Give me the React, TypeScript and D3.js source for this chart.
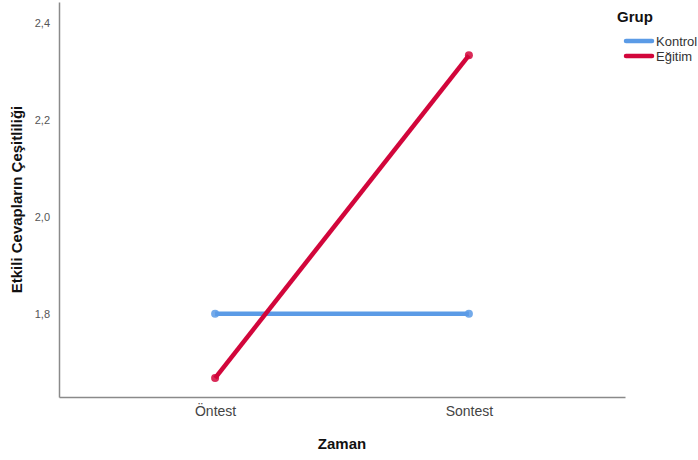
import React from "react";
import * as d3 from "d3";

const times = ["Öntest", "Sontest"];
const groups = ["Kontrol", "Eğitim"];
const kontrolValues = [1.8, 1.8];
const egitimValues = [1.667, 2.333];
const yTicks = [1.8, 2.0, 2.2, 2.4];
const colors = ["#5b9be6", "#d2063b"];

export default function App() {
  const svgRef = React.useRef<SVGSVGElement>(null);

  React.useEffect(() => {
    const width = 698;
    const height = 460;
    const left = 59;
    const right = 625;
    const top = 2;
    const bottom = 397;

    const svg = d3.select(svgRef.current);
    svg.selectAll("*").remove();
    svg.attr("width", width).attr("height", height).style("display", "block");

    // scales
    const xScale = d3.scalePoint<string>().domain(times).range([left, right]).padding(0.615);
    const yScale = d3.scaleLinear().domain([1.628, 2.443]).range([bottom, top]);

    // axes
    const xAxis = d3.axisBottom(xScale).tickSize(0).tickPadding(9);
    const gx = svg.append("g").attr("transform", `translate(0, ${bottom})`).call(xAxis);
    gx.select(".domain").attr("stroke", "#8a8a8a").attr("stroke-width", 1.5);
    gx.selectAll("text")
      .attr("font-family", "Arial, 'Liberation Sans', sans-serif")
      .attr("font-size", 14)
      .attr("fill", "#444")
      .attr("dy", "0.71em");

    const yAxis = d3
      .axisLeft(yScale)
      .tickValues(yTicks)
      .tickSize(0)
      .tickPadding(9)
      .tickFormat((d) => d3.format(".1f")(d as number).replace(".", ","));
    const gy = svg.append("g").attr("transform", `translate(${left}, 0)`).call(yAxis);
    gy.select(".domain").attr("stroke", "#8a8a8a").attr("stroke-width", 1.5);
    gy.selectAll("text")
      .attr("font-family", "Arial, 'Liberation Sans', sans-serif")
      .attr("font-size", 11)
      .attr("fill", "#555");

    // axis labels
    svg
      .append("text")
      .attr("x", (left + right) / 2)
      .attr("y", 449)
      .attr("text-anchor", "middle")
      .attr("font-family", "Arial, 'Liberation Sans', sans-serif")
      .attr("font-size", 15)
      .attr("font-weight", "bold")
      .attr("fill", "#111")
      .text("Zaman");

    svg
      .append("text")
      .attr("transform", `translate(22, ${(top + bottom) / 2}) rotate(-90)`)
      .attr("text-anchor", "middle")
      .attr("font-family", "Arial, 'Liberation Sans', sans-serif")
      .attr("font-size", 15)
      .attr("font-weight", "bold")
      .attr("fill", "#111")
      .text("Etkili Cevapların Çeşitliliği");

    // lines
    const series = [kontrolValues, egitimValues];
    const line = d3
      .line<number>()
      .x((_, i) => xScale(times[i]) as number)
      .y((d) => yScale(d));

    series.forEach((vals, s) => {
      svg
        .append("path")
        .datum(vals)
        .attr("d", line)
        .attr("fill", "none")
        .attr("stroke", colors[s])
        .attr("stroke-width", 4.5);
      svg
        .selectAll(null)
        .data(vals)
        .enter()
        .append("circle")
        .attr("cx", (_, i) => xScale(times[i]) as number)
        .attr("cy", (d) => yScale(d))
        .attr("r", 4)
        .attr("fill", colors[s])
        .attr("opacity", 0.85);
    });

    // legend
    svg
      .append("text")
      .attr("x", 617)
      .attr("y", 22)
      .attr("font-family", "Arial, 'Liberation Sans', sans-serif")
      .attr("font-size", 15)
      .attr("font-weight", "bold")
      .attr("fill", "#111")
      .text("Grup");

    groups.forEach((g, i) => {
      const y = 41 + i * 15;
      svg
        .append("line")
        .attr("x1", 626)
        .attr("x2", 652)
        .attr("y1", y)
        .attr("y2", y)
        .attr("stroke", colors[i])
        .attr("stroke-width", 4.5)
        .attr("stroke-linecap", "round");
      svg
        .append("text")
        .attr("x", 656)
        .attr("y", y + 4.5)
        .attr("font-family", "Arial, 'Liberation Sans', sans-serif")
        .attr("font-size", 13)
        .attr("fill", "#333")
        .text(g);
    });
  }, []);

  return (
    <div style={{ position: "absolute", left: 0, top: 0 }}>
      <svg ref={svgRef} />
    </div>
  );
}
